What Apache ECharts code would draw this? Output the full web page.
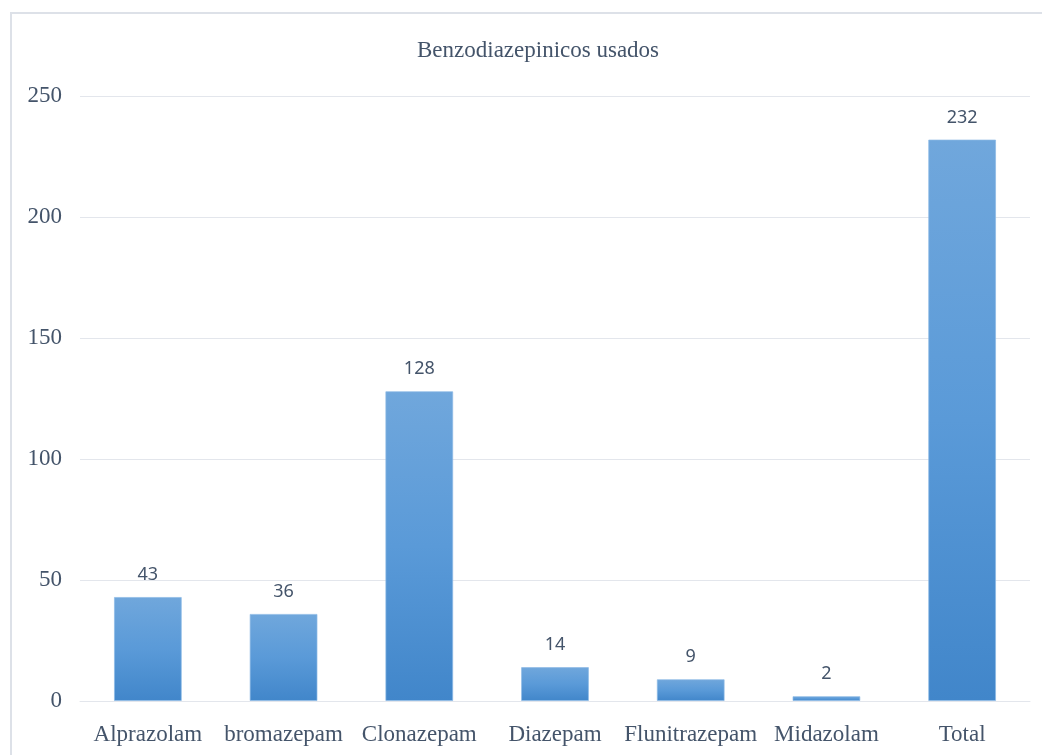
<!DOCTYPE html>
<html>
<head>
<meta charset="utf-8">
<title>Benzodiazepinicos usados</title>
<script src="https://cdn.jsdelivr.net/npm/echarts@6/dist/echarts.min.js"></script>
<style>
  html, body { margin: 0; padding: 0; background: #ffffff; }
  #chart { width: 1042px; height: 755px; }
</style>
</head>
<body>
<div id="chart"></div>
<script>
// data
var categories = ['Alprazolam', 'bromazepam', 'Clonazepam', 'Diazepam', 'Flunitrazepam', 'Midazolam', 'Total']
var counts = [43, 36, 128, 14, 9, 2, 232]
var yTicks = { min: 0, max: 250, interval: 50 }

var textColor = '#44546a'
var lineColor = '#e3e6ec'

var myChart = echarts.init(document.getElementById('chart'))
myChart.setOption({
  animation: false,
  backgroundColor: '#ffffff',
  graphic: [{
    type: 'rect',
    silent: true,
    shape: { x: 11, y: 13, width: 1060, height: 780 },
    style: { fill: 'none', stroke: '#dde1e8', lineWidth: 2 }
  }],
  title: {
    text: 'Benzodiazepinicos usados',
    left: 412,
    top: 34,
    textStyle: {
      fontFamily: 'Liberation Serif',
      fontSize: 23,
      fontWeight: 'normal',
      color: textColor
    }
  },
  grid: {
    left: 80,
    right: 12,
    top: 96,
    bottom: 54,
    containLabel: false,
    outerBoundsMode: 'none'
  },
  xAxis: {
    type: 'category',
    data: categories,
    axisLine: { show: true, lineStyle: { color: lineColor, width: 1 } },
    axisTick: { show: false },
    axisLabel: {
      margin: 22,
      fontFamily: 'Liberation Serif',
      fontSize: 23,
      color: textColor,
      interval: 0
    }
  },
  yAxis: {
    type: 'value',
    min: yTicks.min,
    max: yTicks.max,
    interval: yTicks.interval,
    axisLine: { show: false },
    axisTick: { show: false },
    splitLine: { lineStyle: { color: lineColor, width: 1 } },
    axisLabel: {
      margin: 18,
      fontFamily: 'Liberation Serif',
      fontSize: 23,
      color: textColor
    }
  },
  series: [{
    type: 'bar',
    data: counts,
    barWidth: '50%',
    itemStyle: {
      color: new echarts.graphic.LinearGradient(0, 0, 0, 1, [
        { offset: 0, color: '#70a7dc' },
        { offset: 0.5, color: '#5a9ad8' },
        { offset: 1, color: '#4186ca' }
      ]),
      borderColor: 'rgba(140, 185, 230, 0.7)',
      borderWidth: 1
    },
    label: {
      show: true,
      position: 'top',
      distance: 13,
      fontFamily: 'Noto Sans',
      fontSize: 18,
      color: textColor
    }
  }]
})
</script>
</body>
</html>
